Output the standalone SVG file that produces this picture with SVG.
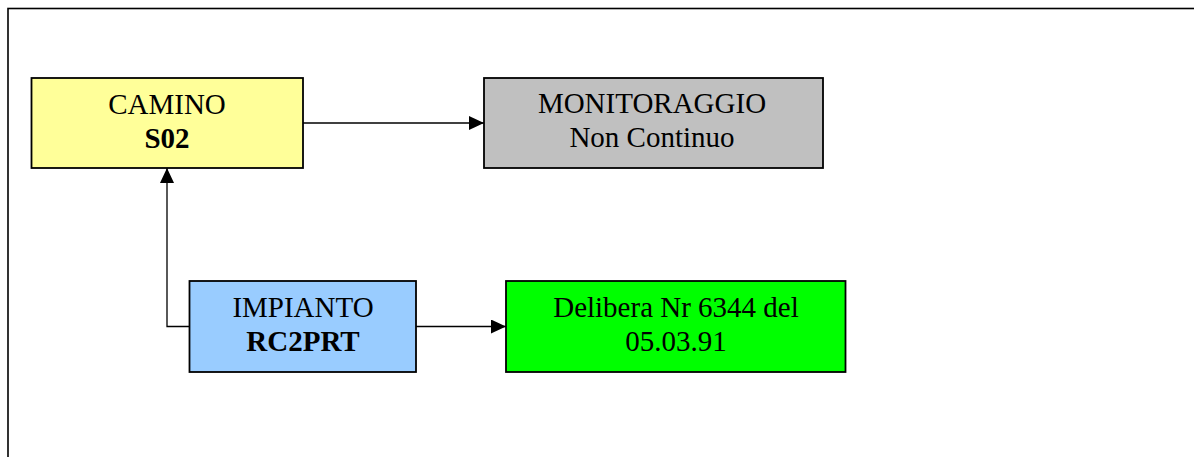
<svg xmlns="http://www.w3.org/2000/svg" width="1194" height="457" viewBox="0 0 1194 457">
  <style>
    .box { stroke: #000; stroke-width: 1.8; }
    .t { font-family: "Liberation Serif", "Times New Roman", serif; font-size: 29px; fill: #000; text-anchor: middle; }
    .b { font-weight: bold; }
    .conn { fill: none; stroke: #000; stroke-width: 1.3; }
  </style>
  <defs>
    <marker id="arrow" viewBox="0 0 15 14" refX="15" refY="7" markerWidth="15" markerHeight="14" markerUnits="userSpaceOnUse" orient="auto">
      <path d="M0,0 L15,7 L0,14 Z" fill="#000"/>
    </marker>
  </defs>
  <rect x="0" y="0" width="1194" height="457" fill="#fff"/>
  <rect id="frame" x="8" y="8.5" width="1200" height="460" fill="none" stroke="#000" stroke-width="1.6"/>

  <g id="connectors">
    <path class="conn" d="M303,123 H484" marker-end="url(#arrow)"/>
    <path class="conn" d="M189,326.5 H167 V168" marker-end="url(#arrow)"/>
    <path class="conn" d="M416,326.5 H506" marker-end="url(#arrow)"/>
  </g>

  <g id="camino">
    <rect class="box" x="31.5" y="78" width="271.5" height="90" fill="#FFFF99"/>
    <text class="t" x="167" y="114">CAMINO</text>
    <text class="t b" x="167" y="148">S02</text>
  </g>

  <g id="monitoraggio">
    <rect class="box" x="484" y="78" width="339" height="90" fill="#C0C0C0"/>
    <text class="t" x="652" y="113">MONITORAGGIO</text>
    <text class="t" x="652" y="147">Non Continuo</text>
  </g>

  <g id="impianto">
    <rect class="box" x="189.5" y="281" width="226.5" height="91" fill="#99CCFF"/>
    <text class="t" x="303" y="317">IMPIANTO</text>
    <text class="t b" x="303" y="351">RC2PRT</text>
  </g>

  <g id="delibera">
    <rect class="box" x="506" y="281" width="339.5" height="91" fill="#00FF00"/>
    <text class="t" x="676" y="317">Delibera Nr 6344 del</text>
    <text class="t" x="676" y="351">05.03.91</text>
  </g>
</svg>
